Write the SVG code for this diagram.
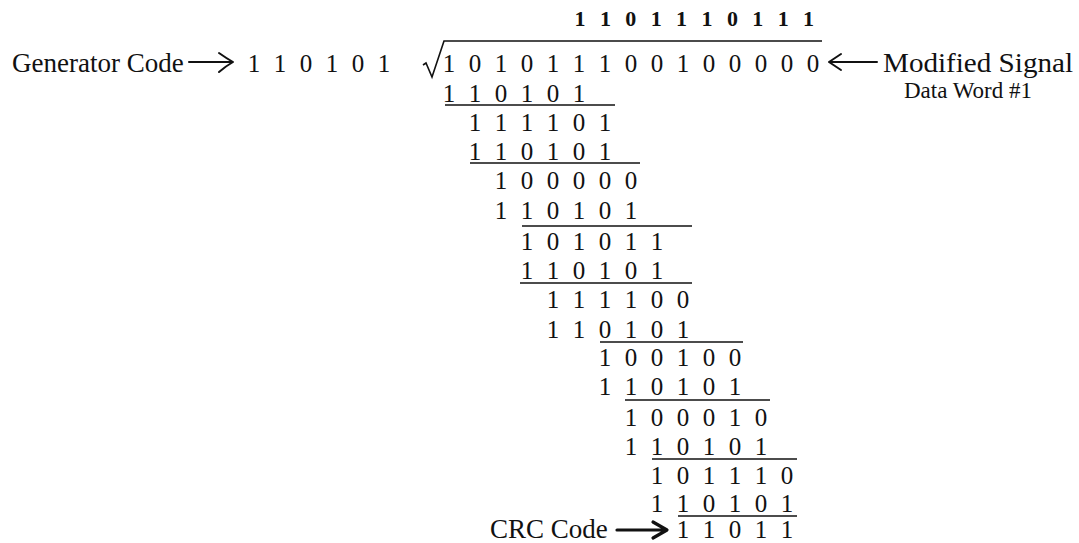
<svg xmlns="http://www.w3.org/2000/svg" width="1079" height="543" viewBox="0 0 1079 543">
<style>
text{font-family:"Liberation Serif","Times New Roman",serif;fill:#111}
.d{font-size:25px;text-anchor:middle}
.q{font-size:22px;font-weight:bold;text-anchor:middle}
.lbl{font-size:27px}
.rule{stroke:#111;stroke-width:1.6;fill:none}
.arr{stroke:#111;stroke-width:2;fill:none;stroke-linecap:round;stroke-linejoin:round}
.bold{stroke-width:3.2}
</style>
<rect width="1079" height="543" fill="#fff"/>
<g id="generator">
<text class="lbl" x="12" y="72">Generator Code</text>
<text class="d" y="71.5" x="254 267 280 293 306 319 332 345 358 371 384">1 1 0 1 0 1</text>
</g>
<g id="quotient">
<text class="q" y="25.5" x="580 592.7 605.4 618.1 630.8 643.5 656.2 668.9 681.6 694.3 707 719.7 732.4 745.1 757.8 770.5 783.2 795.9 808.6">1 1 0 1 1 1 0 1 1 1</text>
</g>
<g id="dividend">
<path class="rule" d="M423 65 L426 63 L432 77 L444 41 H822"/>
<text class="d" y="71.5" x="449 462 475 488 501 514 527 540 553 566 579 592 605 618 631 644 657 670 683 696 709 722 735 748 761 774 787 800 813">1 0 1 0 1 1 1 0 0 1 0 0 0 0 0</text>
</g>
<g id="signal-label">
<text class="lbl" x="883" y="72" style="font-size:28px" textLength="190" lengthAdjust="spacingAndGlyphs">Modified Signal</text>
<text class="lbl" x="904" y="98" style="font-size:24px" textLength="128" lengthAdjust="spacingAndGlyphs">Data Word #1</text>
</g>
<g id="steps">
<text class="d" y="101.5" x="449 462 475 488 501 514 527 540 553 566 579">1 1 0 1 0 1</text>
<text class="d" y="131" x="475 488 501 514 527 540 553 566 579 592 605">1 1 1 1 0 1</text>
<text class="d" y="160" x="475 488 501 514 527 540 553 566 579 592 605">1 1 0 1 0 1</text>
<text class="d" y="188.5" x="501 514 527 540 553 566 579 592 605 618 631">1 0 0 0 0 0</text>
<text class="d" y="219" x="501 514 527 540 553 566 579 592 605 618 631">1 1 0 1 0 1</text>
<text class="d" y="249.5" x="527 540 553 566 579 592 605 618 631 644 657">1 0 1 0 1 1</text>
<text class="d" y="279" x="527 540 553 566 579 592 605 618 631 644 657">1 1 0 1 0 1</text>
<text class="d" y="308" x="553 566 579 592 605 618 631 644 657 670 683">1 1 1 1 0 0</text>
<text class="d" y="337.5" x="553 566 579 592 605 618 631 644 657 670 683">1 1 0 1 0 1</text>
<text class="d" y="366" x="605 618 631 644 657 670 683 696 709 722 735">1 0 0 1 0 0</text>
<text class="d" y="395" x="605 618 631 644 657 670 683 696 709 722 735">1 1 0 1 0 1</text>
<text class="d" y="425.5" x="631 644 657 670 683 696 709 722 735 748 761">1 0 0 0 1 0</text>
<text class="d" y="454.5" x="631 644 657 670 683 696 709 722 735 748 761">1 1 0 1 0 1</text>
<text class="d" y="483.5" x="657 670 683 696 709 722 735 748 761 774 787">1 0 1 1 1 0</text>
<text class="d" y="511.5" x="657 670 683 696 709 722 735 748 761 774 787">1 1 0 1 0 1</text>
</g>
<g id="crc">
<text class="lbl" x="490" y="538">CRC Code</text>
<text class="d" y="537.5" x="683 696 709 722 735 748 761 774 787">1 1 0 1 1</text>
</g>
<g id="rules">
<line class="rule" x1="445" y1="105" x2="615" y2="105"/>
<line class="rule" x1="470" y1="163" x2="640" y2="163"/>
<line class="rule" x1="522" y1="226" x2="692" y2="226"/>
<line class="rule" x1="520" y1="283" x2="692" y2="283"/>
<line class="rule" x1="600" y1="342" x2="743" y2="342"/>
<line class="rule" x1="625" y1="400" x2="770" y2="400"/>
<line class="rule" x1="652" y1="459" x2="797" y2="459"/>
<line class="rule" x1="678" y1="516" x2="797" y2="516"/>
</g>
<g id="connectors">
<path class="arr" d="M189 62 H231 M219 53 Q226 58 233 62 Q226 66 219 72"/>
<path class="arr" d="M829 62 H877 M841 54 L829 62 L841 70"/>
<path class="arr bold" d="M617 530 H664 M653 522 L667 530 L653 538"/>
</g>
</svg>
